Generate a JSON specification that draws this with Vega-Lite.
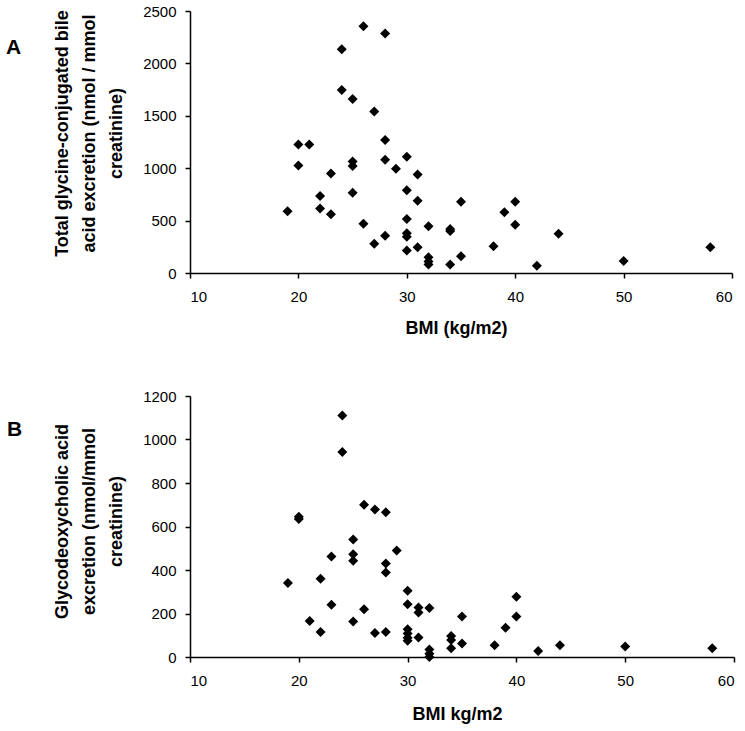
{
  "$schema": "https://vega.github.io/schema/vega-lite/v6.json",
  "autosize": {"type": "pad"},
  "padding": {"left": 6, "top": 4, "right": 5, "bottom": 5},
  "background": "white",
  "bounds": "flush",
  "spacing": 123,
  "config": {
    "view": {"stroke": null},
    "font": "Liberation Sans",
    "axis": {
      "grid": false,
      "domainColor": "black",
      "domainWidth": 1.5,
      "tickColor": "black",
      "tickWidth": 1.5,
      "tickSize": 5,
      "labelColor": "black",
      "labelFont": "Liberation Sans",
      "labelFontSize": 15,
      "format": "d",
      "titleColor": "black",
      "titleFont": "Liberation Sans",
      "titleFontSize": 18,
      "titleFontWeight": "bold"
    },
    "title": {"font": "Liberation Sans", "fontSize": 21, "fontWeight": "bold", "color": "black"}
  },
  "datasets": {
    "total": [
      {"bmi": 19, "v": 590}, {"bmi": 20, "v": 1225}, {"bmi": 20, "v": 1025}, {"bmi": 21, "v": 1225},
      {"bmi": 22, "v": 735}, {"bmi": 22, "v": 615}, {"bmi": 23, "v": 950}, {"bmi": 23, "v": 560},
      {"bmi": 24, "v": 2135}, {"bmi": 24, "v": 1745}, {"bmi": 25, "v": 1660}, {"bmi": 25, "v": 1065},
      {"bmi": 25, "v": 1020}, {"bmi": 25, "v": 765}, {"bmi": 26, "v": 2355}, {"bmi": 26, "v": 470},
      {"bmi": 27, "v": 1540}, {"bmi": 27, "v": 280}, {"bmi": 28, "v": 2285}, {"bmi": 28, "v": 1270},
      {"bmi": 28, "v": 1080}, {"bmi": 28, "v": 355}, {"bmi": 29, "v": 995}, {"bmi": 30, "v": 1110},
      {"bmi": 30, "v": 790}, {"bmi": 30, "v": 515}, {"bmi": 30, "v": 380}, {"bmi": 30, "v": 345},
      {"bmi": 30, "v": 215}, {"bmi": 31, "v": 940}, {"bmi": 31, "v": 690}, {"bmi": 31, "v": 245},
      {"bmi": 32, "v": 445}, {"bmi": 32, "v": 150}, {"bmi": 32, "v": 110}, {"bmi": 32, "v": 80},
      {"bmi": 34, "v": 420}, {"bmi": 34, "v": 400}, {"bmi": 34, "v": 80}, {"bmi": 35, "v": 680},
      {"bmi": 35, "v": 160}, {"bmi": 38, "v": 255}, {"bmi": 39, "v": 580}, {"bmi": 40, "v": 680},
      {"bmi": 40, "v": 460}, {"bmi": 42, "v": 70}, {"bmi": 44, "v": 375}, {"bmi": 50, "v": 115},
      {"bmi": 58, "v": 245}
    ],
    "gdca": [
      {"bmi": 19, "v": 340}, {"bmi": 20, "v": 645}, {"bmi": 20, "v": 635}, {"bmi": 21, "v": 165},
      {"bmi": 22, "v": 360}, {"bmi": 22, "v": 115}, {"bmi": 23, "v": 462}, {"bmi": 23, "v": 240},
      {"bmi": 24, "v": 1110}, {"bmi": 24, "v": 942}, {"bmi": 25, "v": 540}, {"bmi": 25, "v": 472},
      {"bmi": 25, "v": 442}, {"bmi": 25, "v": 163}, {"bmi": 26, "v": 700}, {"bmi": 26, "v": 220},
      {"bmi": 27, "v": 678}, {"bmi": 27, "v": 110}, {"bmi": 28, "v": 665}, {"bmi": 28, "v": 430},
      {"bmi": 28, "v": 388}, {"bmi": 28, "v": 115}, {"bmi": 29, "v": 490}, {"bmi": 30, "v": 305},
      {"bmi": 30, "v": 242}, {"bmi": 30, "v": 128}, {"bmi": 30, "v": 108}, {"bmi": 30, "v": 88},
      {"bmi": 30, "v": 75}, {"bmi": 31, "v": 228}, {"bmi": 31, "v": 205}, {"bmi": 31, "v": 90},
      {"bmi": 32, "v": 225}, {"bmi": 32, "v": 35}, {"bmi": 32, "v": 15}, {"bmi": 32, "v": 0},
      {"bmi": 34, "v": 97}, {"bmi": 34, "v": 78}, {"bmi": 34, "v": 40}, {"bmi": 35, "v": 186},
      {"bmi": 35, "v": 62}, {"bmi": 38, "v": 54}, {"bmi": 39, "v": 135}, {"bmi": 40, "v": 277},
      {"bmi": 40, "v": 186}, {"bmi": 42, "v": 28}, {"bmi": 44, "v": 54}, {"bmi": 50, "v": 48},
      {"bmi": 58, "v": 40}
    ]
  },
  "vconcat": [
    {
      "width": 542,
      "height": 262,
      "title": {"text": "A", "orient": "top", "anchor": "start", "frame": "group", "align": "left", "baseline": "alphabetic", "offset": 0, "dx": -184, "dy": 71},
      "data": {"name": "total"},
      "mark": {"type": "point", "shape": "diamond", "filled": true, "color": "black", "size": 100, "opacity": 1},
      "encoding": {
        "x": {
          "field": "bmi", "type": "quantitative",
          "scale": {"domain": [10, 60], "nice": false},
          "axis": {"values": [10, 20, 30, 40, 50, 60], "title": "BMI (kg/m2)", "labelPadding": 11, "titleY": 46, "titleBaseline": "top", "titleX": 266}
        },
        "y": {
          "field": "v", "type": "quantitative",
          "scale": {"domain": [0, 2500], "nice": false},
          "axis": {
            "values": [0, 500, 1000, 1500, 2000, 2500],
            "title": ["Total glycine-conjugated bile", "acid excretion (nmol / mmol", "creatinine)"],
            "labelPadding": 9,
            "titleLineHeight": 27,
            "titleAngle": -90,
            "titleAlign": "center",
            "titleBaseline": "middle",
            "titleX": -128,
            "titleY": 122
          }
        }
      }
    },
    {
      "width": 544,
      "height": 261,
      "title": {"text": "B", "orient": "top", "anchor": "start", "frame": "group", "align": "left", "baseline": "alphabetic", "offset": 0, "dx": -183, "dy": 68},
      "data": {"name": "gdca"},
      "mark": {"type": "point", "shape": "diamond", "filled": true, "color": "black", "size": 100, "opacity": 1},
      "encoding": {
        "x": {
          "field": "bmi", "type": "quantitative",
          "scale": {"domain": [10, 60], "nice": false},
          "axis": {"values": [10, 20, 30, 40, 50, 60], "title": "BMI kg/m2", "labelPadding": 11, "titleY": 48, "titleBaseline": "top", "titleX": 267}
        },
        "y": {
          "field": "v", "type": "quantitative",
          "scale": {"domain": [0, 1200], "nice": false},
          "axis": {
            "values": [0, 200, 400, 600, 800, 1000, 1200],
            "title": ["Glycodeoxycholic acid", "excretion (nmol/mmol", "creatinine)"],
            "labelPadding": 9,
            "titleLineHeight": 27,
            "titleAngle": -90,
            "titleAlign": "center",
            "titleBaseline": "middle",
            "titleX": -128,
            "titleY": 125
          }
        }
      }
    }
  ]
}
